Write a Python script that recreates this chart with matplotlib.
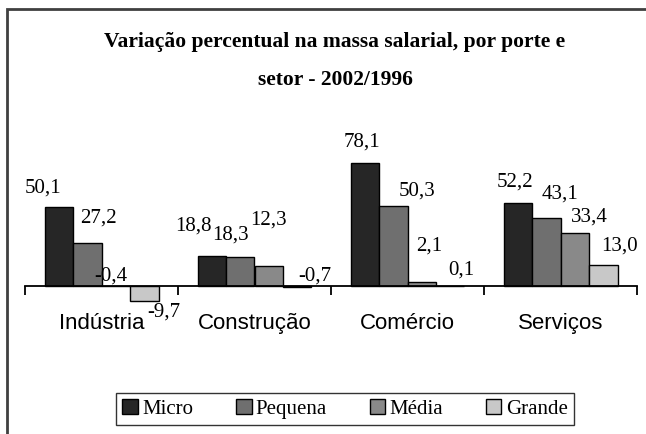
import matplotlib
matplotlib.use('Agg')
import matplotlib.pyplot as plt
from matplotlib.patches import Rectangle
import numpy as np

# data
setores = ['Indústria', 'Construção', 'Comércio', 'Serviços']
portes = ['Micro', 'Pequena', 'Média', 'Grande']
micro = [50.1, 18.8, 78.1, 52.2]
pequena = [27.2, 18.3, 50.3, 43.1]
media = [-0.4, 12.3, 2.1, 33.4]
grande = [-9.7, -0.7, 0.1, 13.0]
rotulos = [['50,1', '18,8', '78,1', '52,2'],
           ['27,2', '18,3', '50,3', '43,1'],
           ['-0,4', '12,3', '2,1', '33,4'],
           ['-9,7', '-0,7', '0,1', '13,0']]

cores = ['#262626', '#6f6f6f', '#898989', '#c8c8c8']

# nudges of the value labels (pixels, from bar centre / bar end)
nudges = [[(-16, 19), (-18, 30), (-3, 21), (-3, 21)],
          [(11, 25), (-10, 22), (24, 15), (14, 24)],
          [(-5, 10), (0, 46), (7, 36), (15, 16)],
          [(20, -11), (18, 11), (11, 16), (16, 19)]]

W, H = 646, 434
fig = plt.figure(figsize=(W / 100, H / 100), dpi=100)
ax = fig.add_axes([25 / W, (H - 330) / H, 612 / W, 220 / H])

series = [micro, pequena, media, grande]
bw = 28.5 / 153
x = np.arange(len(setores)) + 0.5
for j, vals in enumerate(series):
    xs = x + (j - 1.5) * bw
    ax.bar(xs, vals, width=bw, color=cores[j], edgecolor='black',
           linewidth=1.0, label=portes[j], zorder=2)
    for i, v in enumerate(vals):
        dx, dy = nudges[j][i]
        ax.annotate(rotulos[j][i], (xs[i], v), xytext=(dx, dy),
                    textcoords='offset pixels', ha='center', va='center',
                    fontsize=15, family='Liberation Serif')

ax.set_xlim(0, 4)
ax.set_ylim(-28.1, 111.5)
for s in ['top', 'right', 'left']:
    ax.spines[s].set_visible(False)
ax.spines['bottom'].set_position(('data', 0))
ax.spines['bottom'].set_linewidth(1.3)
ax.spines['bottom'].set_zorder(3)
ax.set_yticks([])
ax.set_xticks([0, 1, 2, 3, 4])
ax.set_xticklabels([])
ax.tick_params(axis='x', which='major', direction='out', length=6.5, width=1.3)
ax.set_xticks(x, minor=True)
ax.set_xticklabels(setores, minor=True, fontsize=16, family='Liberation Sans')
ax.tick_params(axis='x', which='minor', length=0, pad=20)

fig.text(335 / W, 1 - 61 / H,
         'Variação percentual na massa salarial, por porte e\nsetor - 2002/1996',
         ha='center', va='center', fontsize=15.5, fontweight='bold',
         family='Liberation Serif', linespacing=2.2)

leg = fig.legend(loc='center', bbox_to_anchor=(345 / W, 1 - 409 / H), ncol=4,
                 frameon=True, fancybox=False, edgecolor='black',
                 prop={'family': 'Liberation Serif', 'size': 15},
                 handlelength=0.75, handleheight=0.75, handletextpad=0.2,
                 columnspacing=2.05, borderpad=0.3)
leg.get_frame().set_linewidth(1.0)

fig.add_artist(Rectangle((7 / W, -0.1), 1.0, 1.1 - 9 / H, transform=fig.transFigure,
                         fill=False, edgecolor='#404040', linewidth=2))

fig.savefig('out.png', dpi=100)
